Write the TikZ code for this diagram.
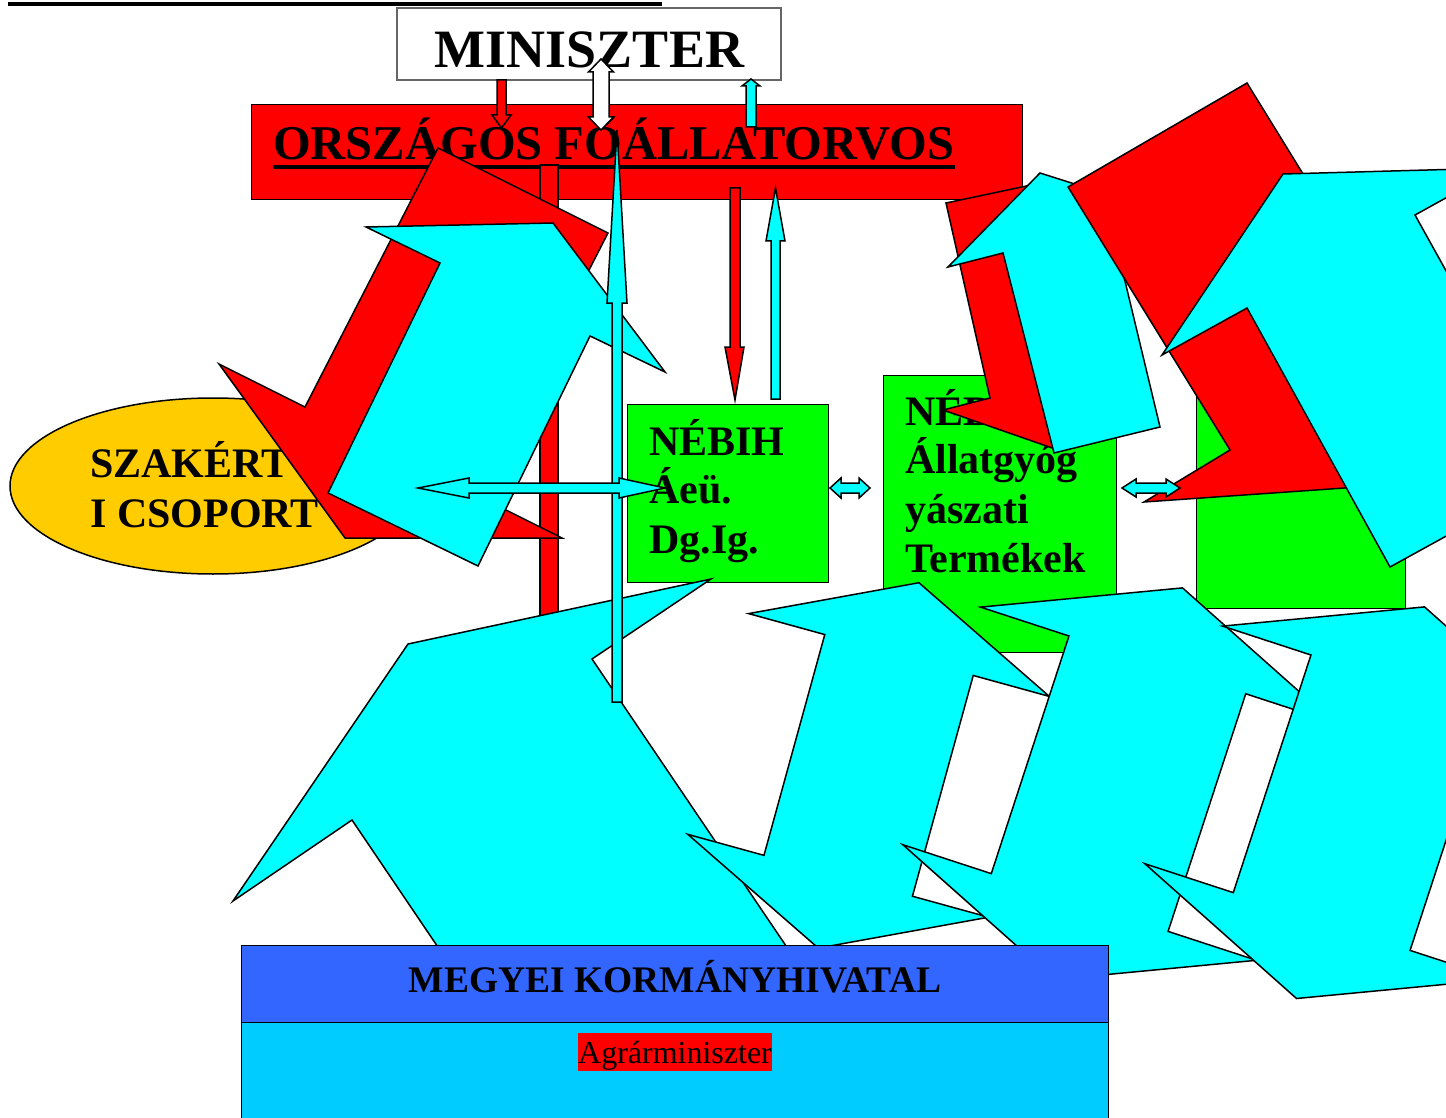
\documentclass[tikz,border=0pt]{standalone}
\usepackage{fontspec}
\setmainfont{Liberation Serif}
\usetikzlibrary{shapes.geometric}
\definecolor{arrred}{HTML}{FF0000}
\definecolor{arrcyan}{HTML}{00FFFF}
\definecolor{boxgreen}{HTML}{00FF00}
\definecolor{ovalgold}{HTML}{FFCC00}
\definecolor{megyeblue}{HTML}{3366FF}
\definecolor{megyesky}{HTML}{00CCFF}
\newcommand\thickul[1]{\setbox0\hbox{#1}\rlap{\rule[-9pt]{\wd0}{4pt}}\box0}
% #1 centre, #2 rotation, #3 half shaft, #4 head half width, #5 shaft half width, #6 head length
\newcommand\udblarrow[6]{%
  \begin{scope}[shift={#1},rotate=#2]
    \draw[cyanblock] (0,-#3-#6) -- (#4,-#3) -- (#5,-#3) -- (#5,#3) -- (#4,#3)
      -- (0,#3+#6) -- (-#4,#3) -- (-#5,#3) -- (-#5,-#3) -- (-#4,-#3) -- cycle;
  \end{scope}}

\begin{document}
\begin{tikzpicture}[x=1pt, y=-1pt,
    redblock/.style={draw, fill=arrred, line width=1.5pt},
    cyanblock/.style={draw, fill=arrcyan, line width=1.5pt},
    whiteblock/.style={draw, fill=white, line width=1.5pt},
    boxtext/.style={anchor=base west, inner sep=0pt, font=\fontsize{42}{50}\selectfont\bfseries}]
\useasboundingbox (0,0) rectangle (1446,1118);
\clip (0,0) rectangle (1446,1118);

\draw[line width=4pt] (8,4) -- (662,4);

\node[rectangle, draw, fill=arrred, line width=1pt, minimum width=771pt,
      minimum height=95pt, inner sep=0pt] (orsz) at (636.5,152.5) {};
\node[anchor=base west, inner sep=0pt, font=\fontsize{48.5}{58}\selectfont\bfseries]
      (orsztext) at (273,160) {\thickul{ORSZÁGOS FŐÁLLATORVOS}};

\node[rectangle, draw=black!60, fill=white, line width=1.5pt, minimum width=384pt,
      minimum height=72pt, inner sep=0pt] (min) at (589,44) {};
\node[anchor=base, inner sep=0pt, font=\fontsize{54}{64}\selectfont\bfseries]
      (mintext) at (589.5,68) {MINISZTER};

\draw[redblock] (497,80) -- (506,80) -- (506,115) -- (511,115) -- (501.5,128)
  -- (492,115) -- (497,115) -- cycle;
\draw[whiteblock] (601,59) -- (613.5,72) -- (609,72) -- (609,117) -- (613.5,117)
  -- (601,130) -- (588.5,117) -- (593,117) -- (593,72) -- (588.5,72) -- cycle;
\draw[cyanblock] (746,127) -- (746,86) -- (742,86) -- (751,79) -- (760,86)
  -- (756,86) -- (756,127) -- cycle;

\node[rectangle, draw, fill=arrred, line width=1.5pt, minimum width=18pt,
      minimum height=465pt, inner sep=0pt] (bar) at (549,397.5) {};

\node[ellipse, draw, fill=ovalgold, line width=1.5pt, minimum width=406pt,
      minimum height=176pt, inner sep=0pt] (szak) at (213,486) {};
\node[boxtext] (szak1) at (90,477) {SZAKÉRT};
\node[boxtext] (szak2) at (90,527) {I CSOPORT};

\node[rectangle, draw, fill=boxgreen, line width=1pt, minimum width=201pt,
      minimum height=178pt, inner sep=0pt] (aeu) at (727.5,493) {};
\node[boxtext] (aeu1) at (649,455) {NÉBIH};
\node[boxtext] (aeu2) at (649,503) {Áeü.};
\node[boxtext] (aeu3) at (649,553) {Dg.Ig.};

\node[rectangle, draw, fill=boxgreen, line width=1pt, minimum width=233pt,
      minimum height=277pt, inner sep=0pt] (allat) at (999.5,513.5) {};
\node[boxtext] (allat1) at (905,425) {NÉBIH};
\node[boxtext] (allat2) at (905,473) {Állatgyóg};
\node[boxtext] (allat3) at (905,523) {yászati};
\node[boxtext] (allat4) at (905,572) {Termékek};

\node[rectangle, draw, fill=boxgreen, line width=1pt, minimum width=209pt,
      minimum height=233pt, inner sep=0pt] (third) at (1300.5,491.5) {};

\draw[redblock] (730,188) -- (740,188) -- (740,347) -- (744,347) -- (735,400)
  -- (725,347) -- (730,347) -- cycle;
\draw[cyanblock] (771,399) -- (771,241) -- (766,241) -- (775.5,188) -- (785,241)
  -- (780,241) -- (780,399) -- cycle;

\draw[redblock] (438,148) -- (305,407) -- (219,364) -- (345,538) -- (562,538)
  -- (474,494) -- (608,233) -- cycle;
\draw[cyanblock] (440,263) -- (366,227) -- (553,223) -- (665,372) -- (590,336)
  -- (478,566) -- (328,493) -- cycle;

\draw[redblock] (946,203) -- (990,398) -- (943,410) -- (1055,449) -- (1141,366)
  -- (1094,376) -- (1050,181) -- cycle;
\draw[cyanblock] (1003,253) -- (948,267) -- (1040,173) -- (1166,213) -- (1112,227)
  -- (1160,427) -- (1054,453) -- cycle;
\draw[redblock] (1068,187) -- (1230,450) -- (1144,502) -- (1373,486) -- (1495,294)
  -- (1409,346) -- (1247,83) -- cycle;
\draw[cyanblock] (1247,308) -- (1162,355) -- (1283,174) -- (1500,168) -- (1415,215)
  -- (1559,474) -- (1390,567) -- cycle;

\draw[cyanblock] (352,820) -- (233,901) -- (408,644) -- (711,579) -- (592,659)
  -- (805,974) -- (565,1135) -- cycle;
\udblarrow{(868.6,765.4)}{-15.4}{114.5}{156}{77}{75}
\udblarrow{(1118.5,783.7)}{-18.1}{125}{186}{93}{81}
\udblarrow{(1360.5,802.7)}{-18.1}{125}{186}{93}{81}

\node[rectangle, draw, fill=megyesky, line width=1pt, minimum width=867pt,
      minimum height=110pt, inner sep=0pt] (megyelow) at (674.5,1077) {};
\node[rectangle, draw, fill=megyeblue, line width=1pt, minimum width=867pt,
      minimum height=77pt, inner sep=0pt] (megye) at (674.5,983.5) {};
\node[anchor=base, inner sep=0pt, font=\fontsize{37.5}{45}\selectfont\bfseries]
      (megyetext) at (675,992) {MEGYEI KORMÁNYHIVATAL};
\node[anchor=base, fill=arrred, inner sep=0pt, text height=30pt, text depth=8pt,
      font=\fontsize{32}{38}\selectfont] (agrar) at (675,1063) {Agrárminiszter};

\draw[cyanblock] (612,702) -- (612,303) -- (607,303) -- (617,130) -- (627,303)
  -- (622,303) -- (622,702) -- cycle;
\draw[cyanblock] (418,488) -- (469,478) -- (469,483) -- (619,483) -- (619,478)
  -- (665,488) -- (619,498) -- (619,493) -- (469,493) -- (469,498) -- cycle;
\draw[cyanblock] (830,488) -- (841,478) -- (841,483) -- (859,483) -- (859,478)
  -- (870,488) -- (859,498) -- (859,493) -- (841,493) -- (841,498) -- cycle;
\draw[cyanblock] (1122,488) -- (1136,479) -- (1136,483) -- (1166,483) -- (1166,479)
  -- (1180,488) -- (1166,497) -- (1166,493) -- (1136,493) -- (1136,497) -- cycle;
\end{tikzpicture}
\end{document}
